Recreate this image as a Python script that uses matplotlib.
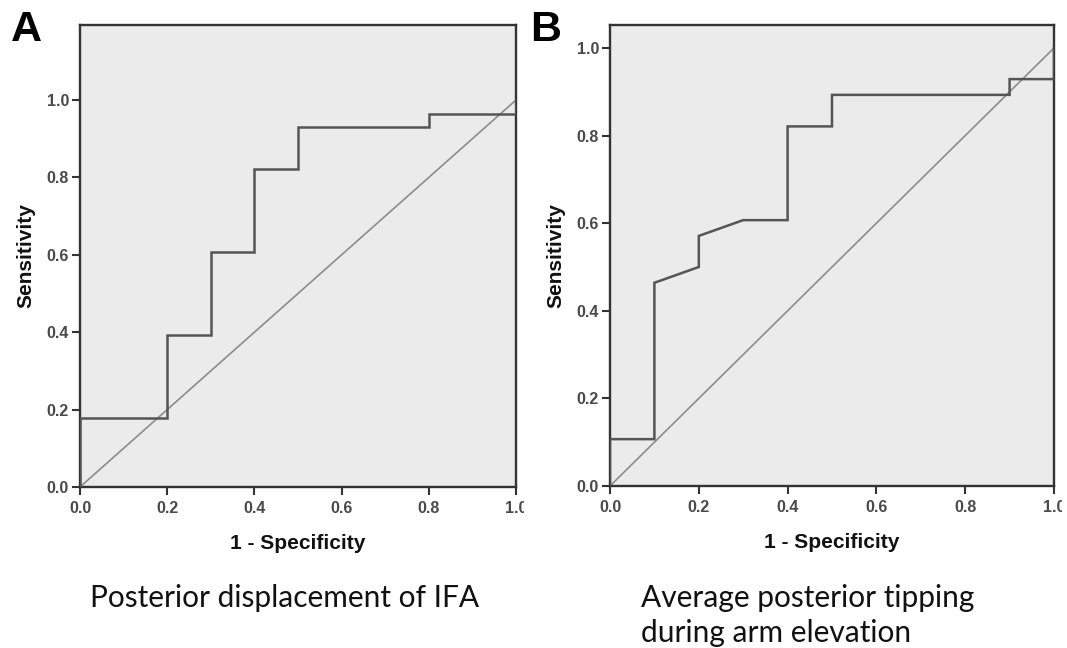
import matplotlib

matplotlib.use("Agg")
import matplotlib.pyplot as plt  # noqa: E402
from matplotlib.transforms import Bbox, TransformedBbox  # noqa: E402

# ROC curve A: posterior displacement of IFA
a_fpr = [0.0, 0.0, 0.2, 0.2, 0.3, 0.3, 0.4, 0.4, 0.5, 0.5, 0.8, 0.8, 1.0, 1.0]
a_tpr = [0.0, 0.179, 0.179, 0.393, 0.393, 0.607, 0.607, 0.821, 0.821, 0.929, 0.929, 0.964, 0.964, 1.0]

# ROC curve B: average posterior tipping during arm elevation
b_fpr = [0.0, 0.0, 0.1, 0.1, 0.2, 0.2, 0.3, 0.4, 0.4, 0.5, 0.5, 0.9, 0.9, 1.0, 1.0]
b_tpr = [0.0, 0.107, 0.107, 0.464, 0.5, 0.571, 0.607, 0.607, 0.821, 0.821, 0.893, 0.893, 0.929, 0.929, 1.0]

ticks = [0.0, 0.2, 0.4, 0.6, 0.8, 1.0]
tick_labels = ["0.0", "0.2", "0.4", "0.6", "0.8", "1.0"]

BG = "#ebebeb"
FRAME = "#333333"
CURVE = "#555555"
DIAG = "#8c8c8c"


def roc_panel(fig, ax, fpr, tpr, ytop):
    ax.set_facecolor(BG)
    ax.plot([0, 1], [0, 1], color=DIAG, lw=1.2, zorder=2)
    ax.plot(fpr, tpr, color=CURVE, lw=1.8, zorder=3, solid_joinstyle="miter")
    ax.set_xlim(0, 1)
    ax.set_ylim(0, ytop)
    ax.set_xticks(ticks)
    ax.set_xticklabels(tick_labels)
    ax.set_yticks(ticks)
    ax.set_yticklabels(tick_labels)
    for sp in ax.spines.values():
        sp.set_color(FRAME)
        sp.set_linewidth(1.7)
    ax.tick_params(direction="out", length=6, width=1.5, color=FRAME,
                   labelsize=11.5, labelcolor="#4a4a4a", pad=2)
    ax.tick_params(axis="x", pad=4)
    for lab in ax.get_xticklabels() + ax.get_yticklabels():
        lab.set_fontfamily("Liberation Sans")
        lab.set_fontweight("bold")
    # last x label is cut off just past the frame, as in the source figure
    pos = ax.get_position()
    cut = TransformedBbox(Bbox([[0, 0], [pos.x1 + 0.0075, 1]]), fig.transFigure)
    last = ax.get_xticklabels()[-1]
    last.set_clip_on(True)
    last.set_clip_box(cut)
    ax.set_xlabel("1 - Specificity", fontsize=15, fontweight="bold",
                  family="Liberation Sans", color="#111111", labelpad=13)
    ax.set_ylabel("Sensitivity", fontsize=15, fontweight="bold",
                  family="Liberation Sans", color="#111111", labelpad=8)


fig = plt.figure(figsize=(10.67, 6.48), dpi=100)
ax1 = fig.add_axes([0.075, 0.2485, 0.4086, 0.713])
ax2 = fig.add_axes([0.5717, 0.250, 0.4161, 0.7114])

roc_panel(fig, ax1, a_fpr, a_tpr, 1.194)
roc_panel(fig, ax2, b_fpr, b_tpr, 1.0525)

fig.text(0.010, 0.953, "A", fontsize=31, fontweight="bold", family="Liberation Sans", va="center")
fig.text(0.497, 0.953, "B", fontsize=31, fontweight="bold", family="Liberation Sans", va="center")

fig.text(0.267, 0.077, "Posterior displacement of IFA", fontsize=21.5, family="Lato",
         ha="center", va="center", color="#111111")
fig.text(0.601, 0.077, "Average posterior tipping", fontsize=21.5, family="Lato",
         ha="left", va="center", color="#111111")
fig.text(0.601, 0.009, "during arm elevation", fontsize=21.5, family="Lato",
         ha="left", va="baseline", color="#111111")

fig.savefig("out.png", dpi=100)
